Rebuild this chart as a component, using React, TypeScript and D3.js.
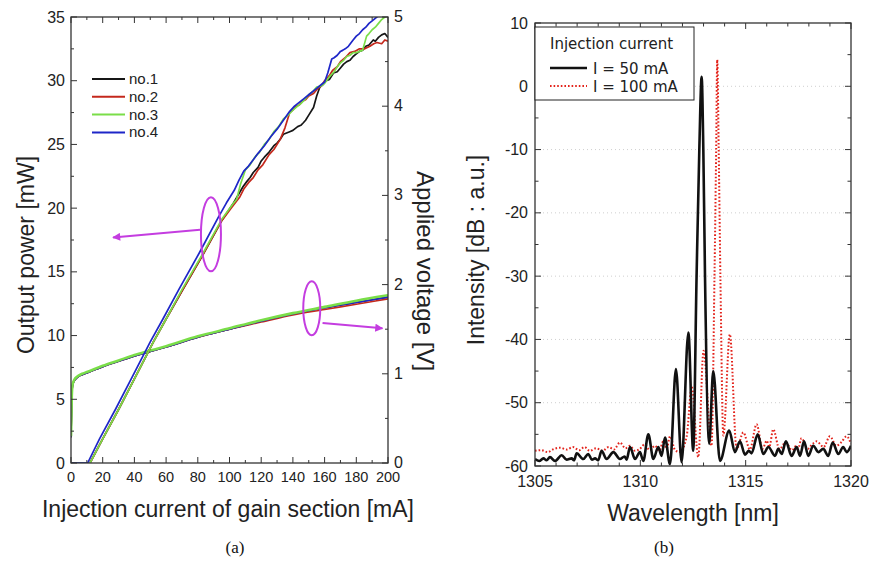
import React from 'react'
import * as d3 from 'd3'

// ---- (a) output power / applied voltage vs injection current ----
const currentTicks = [0, 20, 40, 60, 80, 100, 120, 140, 160, 180, 200]
const powerTicks = [0, 5, 10, 15, 20, 25, 30, 35]
const voltageTicks = [0, 1, 2, 3, 4, 5]
const deviceNames = ['no.1', 'no.2', 'no.3', 'no.4']
const deviceColors = ['#161616', '#c4281c', '#7ade48', '#1e26c8']

// [current mA, power mW]
const power1 = [[0,0],[12,0],[20,1.9],[30,4.2],[40,6.6],[52,9.5],[60,11.3],[70,13.5],[83,16.3],[95,19.0],[102,20.3],[108.6,21.7],[111,22.1],[113,22.4],[115,22.8],[118,23.2],[120,23.7],[122,24.0],[125,24.4],[128,24.9],[130,25.1],[132,25.4],[134,25.8],[136,25.9],[138,26.0],[140,26.1],[143,26.4],[145,26.5],[146.6,26.7],[148,26.9],[150,27.3],[153,27.9],[155,28.8],[157,29.5],[159,29.7],[161,30.0],[163,30.1],[165.6,30.6],[168,30.7],[170,31.0],[172,31.3],[174,31.5],[176,31.6],[178,31.9],[180,32.1],[182,32.3],[184,32.4],[186,32.7],[188,32.8],[190.7,33.2],[192,33.1],[194,33.4],[196,33.6],[198,33.7],[200,33.4]]
const power2 = [[0,0],[12,0],[20,1.9],[30,4.2],[40,6.6],[52,9.5],[60,11.3],[70,13.5],[83,16.3],[95,19.0],[101,20.0],[106.6,20.9],[109,21.5],[112,22.0],[115,22.4],[118,23.0],[121,23.4],[125,24.2],[128,24.6],[132,25.4],[135,26.3],[138,27.5],[140,27.7],[142,28.0],[144,28.1],[146,28.4],[148,28.5],[150,28.8],[153,29.0],[155,29.3],[158,29.6],[160,30.0],[163,30.4],[165,30.8],[168,31.1],[170,31.5],[173,31.8],[176,32.2],[179,32.3],[182,32.5],[185,32.5],[188.6,32.7],[191,32.9],[193,33.0],[196,32.9],[198,33.2],[200,33.1]]
const power3 = [[0,0],[12,0],[20,1.9],[30,4.2],[40,6.6],[52,9.5],[60,11.3],[70,13.6],[83,16.4],[95,19.1],[102,20.3],[104.5,20.7],[107,21.9],[110,23.0],[113,23.4],[116,24.0],[119,24.4],[122,25.0],[125,25.4],[128,26.0],[131,26.4],[134,27.0],[137,27.3],[140,27.7],[143,28.0],[145,28.2],[148,28.6],[150,28.9],[153,29.2],[155,29.5],[158,29.6],[160,29.8],[163,30.3],[166,30.7],[168,31.1],[170,31.4],[172,31.6],[174,31.9],[176,32.0],[178,32.2],[180,32.2],[182,32.3],[184,32.4],[186.5,33.5],[188,33.7],[190,34.0],[192,34.2],[194,34.5],[196,34.8],[198,35.0],[200,35.2]]
const power4 = [[0,0],[10.5,0],[18,1.9],[28,4.2],[38,6.6],[50,9.5],[58,11.3],[68,13.6],[81,16.5],[93,19.3],[98,20.4],[103,21.4],[106,22.2],[109,22.9],[112,23.3],[115,23.8],[118,24.3],[122,24.9],[126,25.6],[130,26.2],[134,26.9],[138,27.6],[141,28.0],[144,28.3],[147,28.6],[150,28.9],[153,29.2],[155,29.4],[158,29.7],[160,29.9],[162,30.6],[164.5,31.7],[166,31.8],[168,32.0],[170,32.3],[171.6,32.4],[173,32.5],[175,32.7],[178,33.2],[180,33.5],[182,33.7],[184,34.0],[186,34.2],[188,34.5],[191,34.8],[195,35.2]]

const voltageCurrent = [0, 0.5, 1, 2, 4, 7, 10, 20, 30, 40, 50, 60, 80, 100, 120, 140, 160, 180, 200]
const voltage1 = [0.29, 0.74, 0.87, 0.92, 0.96, 0.99, 1.01, 1.08, 1.14, 1.2, 1.25, 1.3, 1.41, 1.5, 1.59, 1.67, 1.74, 1.8, 1.86]
const voltage2 = [0.29, 0.74, 0.87, 0.92, 0.96, 0.99, 1.01, 1.08, 1.14, 1.2, 1.25, 1.3, 1.41, 1.5, 1.58, 1.66, 1.72, 1.78, 1.84]
const voltage3 = [0.3, 0.75, 0.88, 0.93, 0.97, 1.0, 1.02, 1.09, 1.15, 1.21, 1.26, 1.31, 1.42, 1.51, 1.6, 1.68, 1.75, 1.82, 1.88]
const voltage4 = [0.29, 0.74, 0.87, 0.92, 0.96, 0.99, 1.01, 1.08, 1.14, 1.2, 1.25, 1.3, 1.41, 1.5, 1.59, 1.67, 1.74, 1.8, 1.86]

// magenta marks: ellipse centre + arrow, in data units
const powerMarker = { current: 88.3, power: 17.95, arrowFrom: [81.4, 18.3], arrowTo: [26.5, 17.7] }
const voltageMarker = { current: 151.9, voltage: 1.734, arrowFrom: [158.7, 1.57], arrowTo: [196.5, 1.51] }

// ---- (b) lasing spectra ----
const wavelengthTicks = [1305, 1310, 1315, 1320]
const intensityTicks = [10, 0, -10, -20, -30, -40, -50, -60]
const gridLevels = [0, -10, -20, -30, -40, -50]
const spectrumTitle = 'Injection current'
const spectrumNames = ['I = 50 mA', 'I = 100 mA']

// [wavelength nm, intensity dB]
const spectrum50 = [[1305.0,-58.9],[1305.2,-59.2],[1305.4,-58.8],[1305.55,-59.1],[1305.71,-58.6],[1305.95,-59.2],[1306.27,-58.3],[1306.5,-59.0],[1306.74,-58.8],[1306.85,-59.1],[1306.98,-58.0],[1307.29,-58.9],[1307.53,-58.1],[1307.7,-59.0],[1307.85,-58.8],[1308.0,-59.1],[1308.16,-57.6],[1308.4,-58.9],[1308.72,-57.8],[1309.03,-58.9],[1309.25,-58.5],[1309.35,-59.0],[1309.51,-57.0],[1309.75,-58.9],[1309.98,-57.8],[1310.14,-59.2],[1310.38,-55.0],[1310.62,-58.9],[1310.85,-57.0],[1311.01,-58.4],[1311.17,-55.5],[1311.41,-59.7],[1311.69,-44.7],[1311.96,-59.4],[1312.28,-38.9],[1312.51,-57.6],[1312.67,-30],[1312.8,-10],[1312.91,1.5],[1312.99,-10],[1313.07,-30],[1313.27,-56.5],[1313.46,-45.0],[1313.78,-59.2],[1314.22,-54.4],[1314.49,-57.8],[1314.73,-56.1],[1314.97,-58.2],[1315.15,-57.6],[1315.28,-58.0],[1315.57,-55.0],[1315.84,-58.1],[1316.08,-57.0],[1316.39,-58.4],[1316.55,-57.3],[1316.71,-58.1],[1316.91,-56.1],[1317.18,-58.4],[1317.42,-57.0],[1317.58,-58.4],[1317.77,-56.1],[1317.97,-58.4],[1318.21,-56.8],[1318.45,-57.8],[1318.68,-57.3],[1318.92,-58.4],[1319.13,-56.3],[1319.4,-58.1],[1319.63,-57.0],[1319.79,-57.8],[1320.0,-56.8]]
const spectrum100 = [[1305.0,-57.6],[1305.3,-57.5],[1305.6,-57.8],[1305.9,-57.3],[1306.2,-57.1],[1306.5,-57.4],[1306.8,-57.0],[1307.1,-57.5],[1307.35,-57.0],[1307.6,-57.6],[1307.9,-57.2],[1308.2,-57.6],[1308.5,-57.0],[1308.75,-57.4],[1309.03,-56.3],[1309.3,-57.2],[1309.5,-56.8],[1309.75,-57.6],[1309.98,-57.3],[1310.2,-56.6],[1310.45,-57.5],[1310.7,-56.8],[1310.9,-57.6],[1311.09,-56.1],[1311.25,-57.3],[1311.41,-55.3],[1311.65,-57.5],[1311.88,-57.8],[1312.2,-55.3],[1312.44,-47.5],[1312.75,-58.6],[1313.0,-41.8],[1313.38,-56.8],[1313.52,-30],[1313.6,-10],[1313.65,4.2],[1313.72,-10],[1313.8,-30],[1313.94,-55.2],[1314.25,-39.2],[1314.57,-57.3],[1314.89,-54.7],[1315.2,-57.4],[1315.52,-53.4],[1315.8,-57.3],[1316.0,-56.0],[1316.12,-57.0],[1316.31,-54.2],[1316.6,-57.3],[1316.9,-56.3],[1317.2,-57.5],[1317.4,-56.8],[1317.5,-57.2],[1317.65,-55.6],[1317.95,-57.3],[1318.15,-56.6],[1318.37,-56.1],[1318.7,-57.0],[1319.0,-55.3],[1319.3,-56.8],[1319.55,-56.2],[1319.79,-55.3],[1320.0,-56.5]]

const SANS = 'Liberation Sans, Arial, sans-serif'
const MAGENTA = '#c43de0'

function PanelA() {
  const L = 71, R = 388, T = 17, B = 463
  const x = d3.scaleLinear().domain([0, 200]).range([L, R])
  const yP = d3.scaleLinear().domain([0, 35]).range([B, T])
  const yV = d3.scaleLinear().domain([0, 5]).range([B, T])

  const powerLine = d3.line<number[]>().x(d => x(d[0])).y(d => yP(d[1]))
  const voltLine = d3.line<number>().x((d, i) => x(voltageCurrent[i])).y(d => yV(d)).curve(d3.curveMonotoneX)

  const xMinor = d3.range(0, 200.01, 10)
  const pMinor = d3.range(0, 35.01, 2.5)
  const vMinor = d3.range(0, 5.01, 0.5)

  const powers = [power1, power2, power3, power4]
  const volts = [voltage1, voltage2, voltage3, voltage4]
  const powerOrder = [0, 1, 2, 3]
  const voltOrder = [0, 1, 3, 2]

  return (
    <g>
      <defs>
        <clipPath id="clipA"><rect x={L} y={T} width={R - L} height={B - T} /></clipPath>
        <marker id="headL" viewBox="0 0 10 10" refX="9" refY="5" markerWidth="11" markerHeight="8" orient="auto" markerUnits="userSpaceOnUse">
          <path d="M0,0 L10,5 L0,10 z" fill={MAGENTA} />
        </marker>
      </defs>
      <g clipPath="url(#clipA)">
        {voltOrder.map(i => (
          <path key={'v' + i} d={voltLine(volts[i]) || ''} fill="none" stroke={deviceColors[i]} strokeWidth={i === 2 ? 2.6 : 1.6} />
        ))}
        {powerOrder.map(i => (
          <path key={'p' + i} d={powerLine(powers[i]) || ''} fill="none" stroke={deviceColors[i]} strokeWidth={1.7} strokeLinejoin="round" />
        ))}
      </g>

      {/* frame and ticks */}
      <rect x={L} y={T} width={R - L} height={B - T} fill="none" stroke="#333" strokeWidth={1.3} />
      {xMinor.map(v => {
        const len = v % 20 === 0 ? 6 : 3
        return (
          <g key={'xt' + v} stroke="#333" strokeWidth={1}>
            <line x1={x(v)} x2={x(v)} y1={B} y2={B - len} />
            <line x1={x(v)} x2={x(v)} y1={T} y2={T + len} />
          </g>
        )
      })}
      {pMinor.map(v => (
        <line key={'pt' + v} x1={L} x2={L + (v % 5 === 0 ? 6 : 3)} y1={yP(v)} y2={yP(v)} stroke="#333" />
      ))}
      {vMinor.map(v => (
        <line key={'vt' + v} x1={R} x2={R - (v % 1 === 0 ? 6 : 3)} y1={yV(v)} y2={yV(v)} stroke="#333" />
      ))}
      {currentTicks.map(v => (
        <text key={'xl' + v} x={x(v)} y={482} textAnchor="middle" fontFamily={SANS} fontSize={14.5} fill="#222">{v}</text>
      ))}
      {powerTicks.map(v => (
        <text key={'pl' + v} x={65} y={yP(v) + 5.5} textAnchor="end" fontFamily={SANS} fontSize={16} fill="#222">{v}</text>
      ))}
      {voltageTicks.map(v => (
        <text key={'vl' + v} x={394} y={yV(v) + 5} textAnchor="start" fontFamily={SANS} fontSize={16} fill="#222">{v}</text>
      ))}

      {/* legend */}
      {deviceNames.map((name, i) => {
        const yy = 79 + i * 17.8
        return (
          <g key={name}>
            <line x1={92} x2={125} y1={yy} y2={yy} stroke={deviceColors[i]} strokeWidth={2} />
            <text x={129} y={yy + 5} fontFamily={SANS} fontSize={15} fill="#222">{name}</text>
          </g>
        )
      })}

      {/* magenta markers */}
      <ellipse cx={x(powerMarker.current)} cy={yP(powerMarker.power)} rx={10} ry={37} fill="none" stroke={MAGENTA} strokeWidth={2} />
      <line x1={x(powerMarker.arrowFrom[0])} y1={yP(powerMarker.arrowFrom[1])} x2={x(powerMarker.arrowTo[0])} y2={yP(powerMarker.arrowTo[1])}
        stroke={MAGENTA} strokeWidth={2} markerEnd="url(#headL)" />
      <ellipse cx={x(voltageMarker.current)} cy={yV(voltageMarker.voltage)} rx={8.5} ry={27} fill="none" stroke={MAGENTA} strokeWidth={2} />
      <line x1={x(voltageMarker.arrowFrom[0])} y1={yV(voltageMarker.arrowFrom[1])} x2={x(voltageMarker.arrowTo[0])} y2={yV(voltageMarker.arrowTo[1])}
        stroke={MAGENTA} strokeWidth={2} markerEnd="url(#headL)" />

      {/* titles */}
      <text transform="translate(33.5,255) rotate(-90)" textAnchor="middle" fontFamily={SANS} fontSize={23} fill="#222">Output power [mW]</text>
      <text transform="translate(417,271) rotate(90)" textAnchor="middle" fontFamily={SANS} fontSize={24} fill="#222">Applied voltage [V]</text>
      <text x={228} y={517} textAnchor="middle" fontFamily={SANS} fontSize={23} fill="#222">Injection current of gain section [mA]</text>
      <text x={235} y={553} textAnchor="middle" fontFamily="Liberation Serif, Times New Roman, serif" fontSize={17} fill="#111">(a)</text>
    </g>
  )
}

function PanelB() {
  const L = 535, R = 851, T = 23, B = 466
  const x = d3.scaleLinear().domain([1305, 1320]).range([L, R])
  const y = d3.scaleLinear().domain([-60, 10]).range([B, T])
  const line = d3.line<number[]>().x(d => x(d[0])).y(d => y(d[1])).curve(d3.curveMonotoneX)

  const xMinor = d3.range(1305, 1320.01, 1)
  const yMinor = d3.range(-60, 10.01, 5)

  return (
    <g>
      <defs>
        <clipPath id="clipB"><rect x={L} y={T} width={R - L} height={B - T} /></clipPath>
      </defs>
      {gridLevels.map(v => (
        <line key={'g' + v} x1={L} x2={R} y1={y(v)} y2={y(v)} stroke="#cfcfcf" strokeWidth={1} strokeDasharray="1 3" />
      ))}
      <g clipPath="url(#clipB)">
        <path d={line(spectrum100) || ''} fill="none" stroke="#e3231b" strokeWidth={2} strokeDasharray="1.6 2" />
        <path d={line(spectrum50) || ''} fill="none" stroke="#111" strokeWidth={2.6} strokeLinejoin="round" />
      </g>

      <rect x={L} y={T} width={R - L} height={B - T} fill="none" stroke="#333" strokeWidth={1.3} />
      {xMinor.map(v => {
        const len = v % 5 === 0 ? 6 : 3.5
        return (
          <g key={'xt' + v} stroke="#333" strokeWidth={1}>
            <line x1={x(v)} x2={x(v)} y1={B} y2={B - len} />
            <line x1={x(v)} x2={x(v)} y1={T} y2={T + len} />
          </g>
        )
      })}
      {yMinor.map(v => {
        const len = v % 10 === 0 ? 6 : 3.5
        return (
          <g key={'yt' + v} stroke="#333" strokeWidth={1}>
            <line x1={L} x2={L + len} y1={y(v)} y2={y(v)} />
            <line x1={R} x2={R - len} y1={y(v)} y2={y(v)} />
          </g>
        )
      })}
      {wavelengthTicks.map(v => (
        <text key={'xl' + v} x={x(v)} y={487} textAnchor="middle" fontFamily={SANS} fontSize={16} fill="#222">{v}</text>
      ))}
      {intensityTicks.map(v => (
        <text key={'yl' + v} x={528} y={y(v) + 5.5} textAnchor="end" fontFamily={SANS} fontSize={16} fill="#222">{v}</text>
      ))}

      {/* legend */}
      <rect x={L} y={27} width={159} height={73} fill="#fff" stroke="#222" strokeWidth={1} />
      <text x={550} y={48.5} fontFamily="DejaVu Sans, sans-serif" fontSize={15} fill="#222">{spectrumTitle}</text>
      <line x1={550} x2={587} y1={68} y2={68} stroke="#111" strokeWidth={2.6} />
      <text x={593} y={73.5} fontFamily="DejaVu Sans, sans-serif" fontSize={15} fill="#222">{spectrumNames[0]}</text>
      <line x1={550} x2={587} y1={86} y2={86} stroke="#e3231b" strokeWidth={2} strokeDasharray="1.6 2" />
      <text x={593} y={91.5} fontFamily="DejaVu Sans, sans-serif" fontSize={15} fill="#222">{spectrumNames[1]}</text>

      <text transform="translate(484,250) rotate(-90)" textAnchor="middle" fontFamily={SANS} fontSize={23} fill="#222">Intensity [dB : a.u.]</text>
      <text x={693} y={521} textAnchor="middle" fontFamily={SANS} fontSize={23} fill="#222">Wavelength [nm]</text>
      <text x={664} y={553} textAnchor="middle" fontFamily="Liberation Serif, Times New Roman, serif" fontSize={17} fill="#111">(b)</text>
    </g>
  )
}

export default function App() {
  return (
    <svg width={870} height={561} style={{ position: 'absolute', left: 0, top: 0, background: '#fff' }}>
      <rect width={870} height={561} fill="#fff" />
      <PanelA />
      <PanelB />
    </svg>
  )
}
